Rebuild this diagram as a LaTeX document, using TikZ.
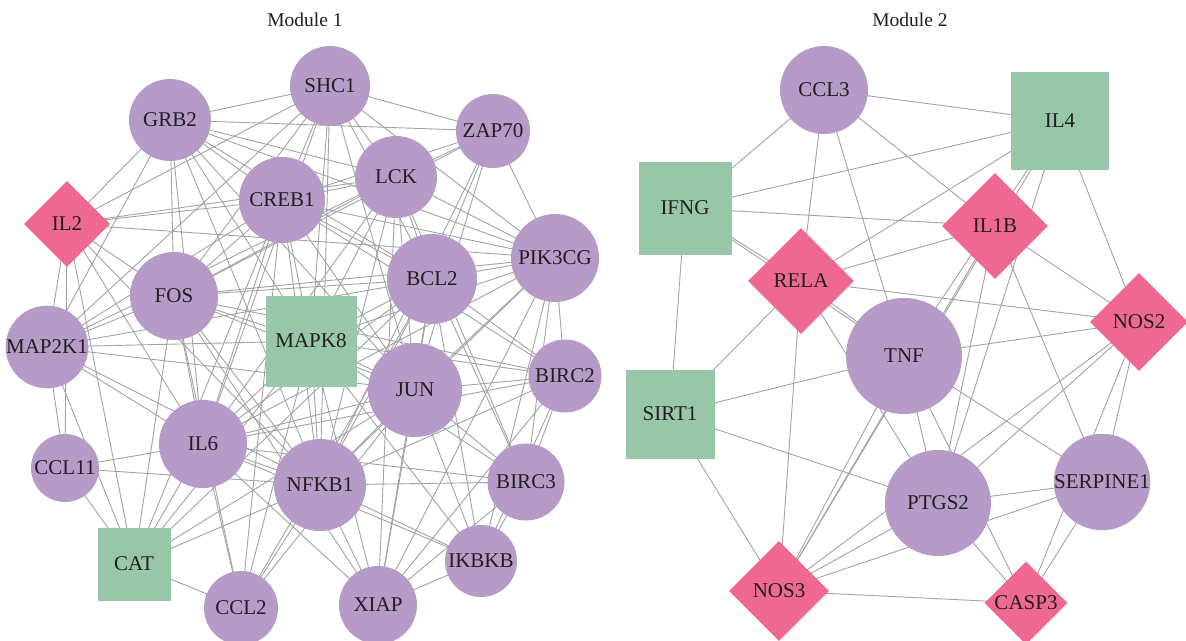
\documentclass[tikz,border=0pt]{standalone}
\usepackage{fontspec}
\setmainfont{Liberation Serif}
\usetikzlibrary{shapes.geometric,backgrounds}
\definecolor{nodepurple}{HTML}{B69AC7}
\definecolor{nodegreen}{HTML}{98C6A9}
\definecolor{nodepink}{HTML}{EF6891}
\definecolor{edgegray}{HTML}{A3A3A3}
\definecolor{txtcol}{HTML}{231F20}
\tikzset{
  lbl/.style={text=txtcol,font=\fontsize{21}{23}\selectfont,inner sep=0pt},
  circ/.style={lbl,circle,fill=nodepurple,minimum size=#1},
  sqr/.style={lbl,rectangle,fill=nodegreen,minimum size=#1},
  dia/.style={lbl,diamond,fill=nodepink,minimum width=#1,minimum height=#1},
  edge/.style={draw=edgegray,line width=0.9pt},
  ttl/.style={text=txtcol,font=\fontsize{19.5}{22}\selectfont,inner sep=0pt}
}
\begin{document}
\begin{tikzpicture}[x=1pt,y=-1pt]
\useasboundingbox (0,0) rectangle (1186,640);
% titles
\node[ttl] (t1) at (305,20) {Module 1};
\node[ttl] (t2) at (910,20) {Module 2};
% Module 1 nodes
\node[circ=80] (SHC1) at (330,86) {SHC1};
\node[circ=82] (GRB2) at (170,120) {GRB2};
\node[circ=74] (ZAP70) at (493,131) {ZAP70};
\node[circ=82] (LCK) at (396,177) {LCK};
\node[circ=86] (CREB1) at (282,200) {CREB1};
\node[dia=86] (IL2) at (67,224) {IL2};
\node[circ=88] (PIK3CG) at (555,258) {PIK3CG};
\node[circ=90] (BCL2) at (432,279) {BCL2};
\node[circ=88] (FOS) at (174,296) {FOS};
\node[sqr=91] (MAPK8) at (311,341) {MAPK8};
\node[circ=80] (MAP2K1) at (47,347) {MAP2K1};
\node[circ=94] (JUN) at (415,390) {JUN};
\node[circ=73] (BIRC2) at (565,376) {BIRC2};
\node[circ=88] (IL6) at (203,444) {IL6};
\node[circ=68] (CCL11) at (65,468) {CCL11};
\node[circ=92] (NFKB1) at (320,485) {NFKB1};
\node[circ=77] (BIRC3) at (526,482) {BIRC3};
\node[circ=72] (IKBKB) at (481,561) {IKBKB};
\node[sqr=73] (CAT) at (134,564) {CAT};
\node[circ=74] (CCL2) at (241,608) {CCL2};
\node[circ=78] (XIAP) at (378,605) {XIAP};
% Module 2 nodes
\node[circ=88] (CCL3) at (824,90) {CCL3};
\node[sqr=98] (IL4) at (1060,121) {IL4};
\node[sqr=93] (IFNG) at (685,208) {IFNG};
\node[dia=106] (IL1B) at (995,226) {IL1B};
\node[dia=106] (RELA) at (801,281) {RELA};
\node[dia=98] (NOS2) at (1139,322) {NOS2};
\node[circ=116] (TNF) at (904,356) {TNF};
\node[sqr=89] (SIRT1) at (670,414) {SIRT1};
\node[circ=88] (SERPINE1) at (1102,482) {SERPINE1};
\node[circ=106] (PTGS2) at (938,503) {PTGS2};
\node[dia=100] (NOS3) at (779,591) {NOS3};
\node[dia=83] (CASP3) at (1026,603) {CASP3};
\begin{pgfonlayer}{background}
\fill[white] (0,0) rectangle (1186,640);
% Module 1 edges
\foreach \a/\b in {
 GRB2/SHC1, GRB2/ZAP70, GRB2/LCK, GRB2/PIK3CG, GRB2/BCL2, GRB2/CREB1, GRB2/IL2, GRB2/FOS, GRB2/MAP2K1, GRB2/JUN, GRB2/MAPK8, GRB2/NFKB1, GRB2/IL6,
 SHC1/ZAP70, SHC1/LCK, SHC1/CREB1, SHC1/IL2, SHC1/FOS, SHC1/MAP2K1, SHC1/BCL2, SHC1/PIK3CG, SHC1/JUN, SHC1/MAPK8, SHC1/NFKB1, SHC1/IL6,
 ZAP70/LCK, ZAP70/CREB1, ZAP70/PIK3CG, ZAP70/BCL2, ZAP70/JUN, ZAP70/NFKB1, ZAP70/FOS,
 LCK/CREB1, LCK/IL2, LCK/FOS, LCK/MAP2K1, LCK/BCL2, LCK/PIK3CG, LCK/JUN, LCK/MAPK8, LCK/NFKB1, LCK/IL6, LCK/BIRC3, LCK/XIAP,
 CREB1/IL2, CREB1/FOS, CREB1/MAP2K1, CREB1/BCL2, CREB1/PIK3CG, CREB1/JUN, CREB1/MAPK8, CREB1/NFKB1, CREB1/IL6, CREB1/CAT, CREB1/CCL2, CREB1/BIRC2,
 PIK3CG/BCL2, PIK3CG/JUN, PIK3CG/BIRC2, PIK3CG/BIRC3, PIK3CG/NFKB1, PIK3CG/MAPK8, PIK3CG/FOS, PIK3CG/IL2, PIK3CG/XIAP, PIK3CG/IKBKB, PIK3CG/IL6,
 BCL2/FOS, BCL2/MAP2K1, BCL2/MAPK8, BCL2/JUN, BCL2/BIRC2, BCL2/BIRC3, BCL2/IKBKB, BCL2/XIAP, BCL2/NFKB1, BCL2/IL6, BCL2/CAT, BCL2/CCL2,
 FOS/MAP2K1, FOS/MAPK8, FOS/JUN, FOS/IL6, FOS/NFKB1, FOS/CAT, FOS/CCL2, FOS/IL2, FOS/BIRC2, FOS/XIAP,
 MAPK8/MAP2K1, MAPK8/JUN, MAPK8/IL6, MAPK8/NFKB1, MAPK8/BIRC2, MAPK8/BIRC3, MAPK8/XIAP, MAPK8/CCL2, MAPK8/CAT, MAPK8/IKBKB,
 MAP2K1/IL6, MAP2K1/CCL11, MAP2K1/NFKB1, MAP2K1/JUN, MAP2K1/CAT, MAP2K1/IL2,
 JUN/BIRC2, JUN/BIRC3, JUN/IKBKB, JUN/XIAP, JUN/NFKB1, JUN/IL6, JUN/CCL2, JUN/CAT,
 BIRC2/BIRC3, BIRC2/IKBKB, BIRC2/NFKB1, BIRC2/XIAP, BIRC2/IL6,
 IL6/CCL11, IL6/NFKB1, IL6/CAT, IL6/CCL2, IL6/BIRC3, IL6/IKBKB, IL6/XIAP, IL6/IL2,
 CCL11/NFKB1, CCL11/CAT, CCL11/IL2,
 NFKB1/BIRC3, NFKB1/IKBKB, NFKB1/XIAP, NFKB1/CCL2, NFKB1/CAT, NFKB1/IL2,
 BIRC3/IKBKB, BIRC3/XIAP, IKBKB/XIAP, CAT/CCL2, CAT/IL2}
 \draw[edge] (\a.center) -- (\b.center);
% Module 2 edges
\foreach \a/\b in {
 CCL3/IFNG, CCL3/IL4, CCL3/RELA, CCL3/TNF, CCL3/IL1B,
 IFNG/IL4, IFNG/IL1B, IFNG/RELA, IFNG/TNF, IFNG/SIRT1,
 IL4/RELA, IL4/TNF, IL4/NOS3, IL4/PTGS2, IL4/NOS2,
 IL1B/RELA, IL1B/NOS2, IL1B/PTGS2, IL1B/SERPINE1, IL1B/NOS3,
 RELA/NOS2, RELA/SIRT1, RELA/NOS3, RELA/TNF, RELA/PTGS2,
 TNF/NOS2, TNF/SIRT1, TNF/PTGS2, TNF/SERPINE1, TNF/NOS3, TNF/CASP3,
 NOS2/PTGS2, NOS2/NOS3, NOS2/SERPINE1, NOS2/CASP3,
 SIRT1/PTGS2, SIRT1/NOS3,
 PTGS2/SERPINE1, PTGS2/NOS3, PTGS2/CASP3,
 SERPINE1/CASP3, SERPINE1/NOS3, NOS3/CASP3}
 \draw[edge] (\a.center) -- (\b.center);
\end{pgfonlayer}
\end{tikzpicture}
\end{document}
